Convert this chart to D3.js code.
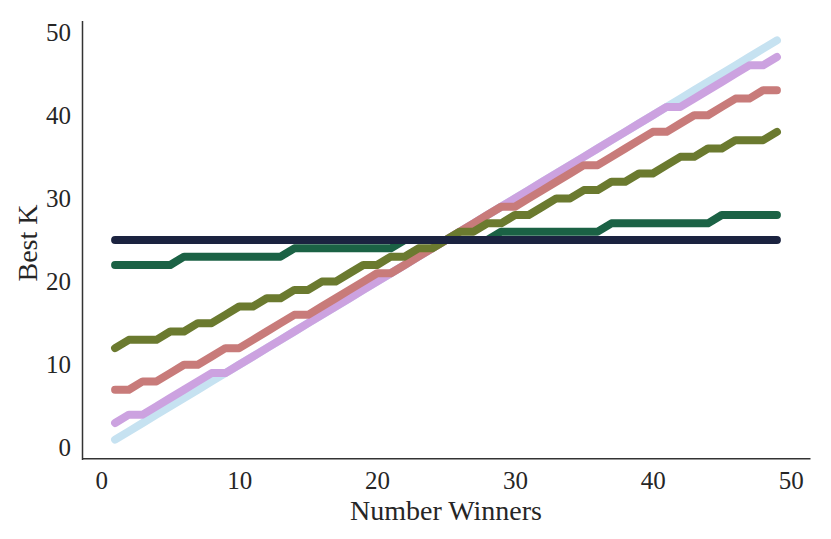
<!DOCTYPE html>
<html>
<head>
<meta charset="utf-8">
<script src="https://cdn.jsdelivr.net/npm/d3@7"></script>
<style>
  html, body { margin: 0; padding: 0; background: #fff; }
  svg text { font-family: "Liberation Serif", "DejaVu Serif", serif; fill: #262626; }
</style>
</head>
<body>
<div id="chart"></div>
<script>
// Number of winners on the x axis
const winners = [1, 2, 3, 4, 5, 6, 7, 8, 9, 10, 11, 12, 13, 14, 15, 16, 17, 18, 19, 20,
  21, 22, 23, 24, 25, 26, 27, 28, 29, 30, 31, 32, 33, 34, 35, 36, 37, 38, 39, 40,
  41, 42, 43, 44, 45, 46, 47, 48, 49];

// Best K per series
const kLightBlue = [1, 2, 3, 4, 5, 6, 7, 8, 9, 10, 11, 12, 13, 14, 15, 16, 17, 18, 19, 20,
  21, 22, 23, 24, 25, 26, 27, 28, 29, 30, 31, 32, 33, 34, 35, 36, 37, 38, 39, 40,
  41, 42, 43, 44, 45, 46, 47, 48, 49];
const kPurple = [3, 4, 4, 5, 6, 7, 8, 9, 9, 10, 11, 12, 13, 14, 15, 16, 17, 18, 19, 20,
  21, 22, 23, 24, 25, 26, 27, 28, 29, 30, 31, 32, 33, 34, 35, 36, 37, 38, 39, 40,
  41, 41, 42, 43, 44, 45, 46, 46, 47];
const kSalmon = [7, 7, 8, 8, 9, 10, 10, 11, 12, 12, 13, 14, 15, 16, 16, 17, 18, 19, 20, 21,
  21, 22, 23, 24, 25, 26, 27, 28, 29, 29, 30, 31, 32, 33, 34, 34, 35, 36, 37, 38,
  38, 39, 40, 40, 41, 42, 42, 43, 43];
const kOlive = [12, 13, 13, 13, 14, 14, 15, 15, 16, 17, 17, 18, 18, 19, 19, 20, 20, 21, 22, 22,
  23, 23, 24, 24, 25, 26, 26, 27, 27, 28, 28, 29, 30, 30, 31, 31, 32, 32, 33, 33,
  34, 35, 35, 36, 36, 37, 37, 37, 38];
const kDarkGreen = [22, 22, 22, 22, 22, 23, 23, 23, 23, 23, 23, 23, 23, 24, 24, 24, 24, 24, 24, 24,
  24, 25, 25, 25, 25, 25, 25, 25, 26, 26, 26, 26, 26, 26, 26, 26, 27, 27, 27, 27,
  27, 27, 27, 27, 28, 28, 28, 28, 28];
const kNavy = [25, 25, 25, 25, 25, 25, 25, 25, 25, 25, 25, 25, 25, 25, 25, 25, 25, 25, 25, 25,
  25, 25, 25, 25, 25, 25, 25, 25, 25, 25, 25, 25, 25, 25, 25, 25, 25, 25, 25, 25,
  25, 25, 25, 25, 25, 25, 25, 25, 25];

const xTicks = [0, 10, 20, 30, 40, 50];
const yTicks = [0, 10, 20, 30, 40, 50];

// drawing order: first is at the bottom
const series = [
  { values: kLightBlue, color: '#c6e2f1' },
  { values: kPurple,    color: '#cca2e0' },
  { values: kSalmon,    color: '#c87b7a' },
  { values: kOlive,     color: '#6b7a2f' },
  { values: kDarkGreen, color: '#1b6245' },
  { values: kNavy,      color: '#1b2340' }
];

const width = 831, height = 539;
const plot = { left: 82, right: 810, top: 20.4, bottom: 459.6 };

const svg = d3.select('#chart').append('svg')
  .attr('width', width)
  .attr('height', height);

const x = d3.scaleLinear().domain([-1.4, 51.4]).range([plot.left, plot.right]);
const y = d3.scaleLinear().domain([-1.4, 51.4]).range([plot.bottom, plot.top]);

const line = d3.line()
  .x((d, i) => x(winners[i]))
  .y(d => y(d));

svg.append('g').attr('class', 'lines')
  .selectAll('path')
  .data(series)
  .join('path')
  .attr('d', d => line(d.values))
  .attr('fill', 'none')
  .attr('stroke', d => d.color)
  .attr('stroke-width', 8)
  .attr('stroke-linecap', 'round')
  .attr('stroke-linejoin', 'round');

// Axes: no tick marks, just the left and bottom spines
const xAxis = svg.append('g')
  .attr('transform', `translate(0,${plot.bottom - 1.3})`)
  .call(d3.axisBottom(x).tickValues(xTicks).tickSize(0).tickSizeOuter(0).tickPadding(13));

const yAxis = svg.append('g')
  .attr('transform', `translate(${plot.left},0)`)
  .call(d3.axisLeft(y).tickValues(yTicks).tickSize(0).tickSizeOuter(0).tickPadding(11));

[xAxis, yAxis].forEach(ax => {
  ax.attr('font-family', null).attr('font-size', null);
  ax.select('.domain').attr('stroke', '#333').attr('stroke-width', 1.5);
  ax.selectAll('.tick text').style('font-size', '25px').attr('fill', '#262626');
});

svg.append('text')
  .attr('x', (plot.left + plot.right) / 2)
  .attr('y', 520)
  .attr('text-anchor', 'middle')
  .style('font-size', '28px')
  .text('Number Winners');

svg.append('text')
  .attr('transform', `translate(37,${(plot.top + plot.bottom) / 2 + 3}) rotate(-90)`)
  .attr('text-anchor', 'middle')
  .style('font-size', '28px')
  .text('Best K');
</script>
</body>
</html>
